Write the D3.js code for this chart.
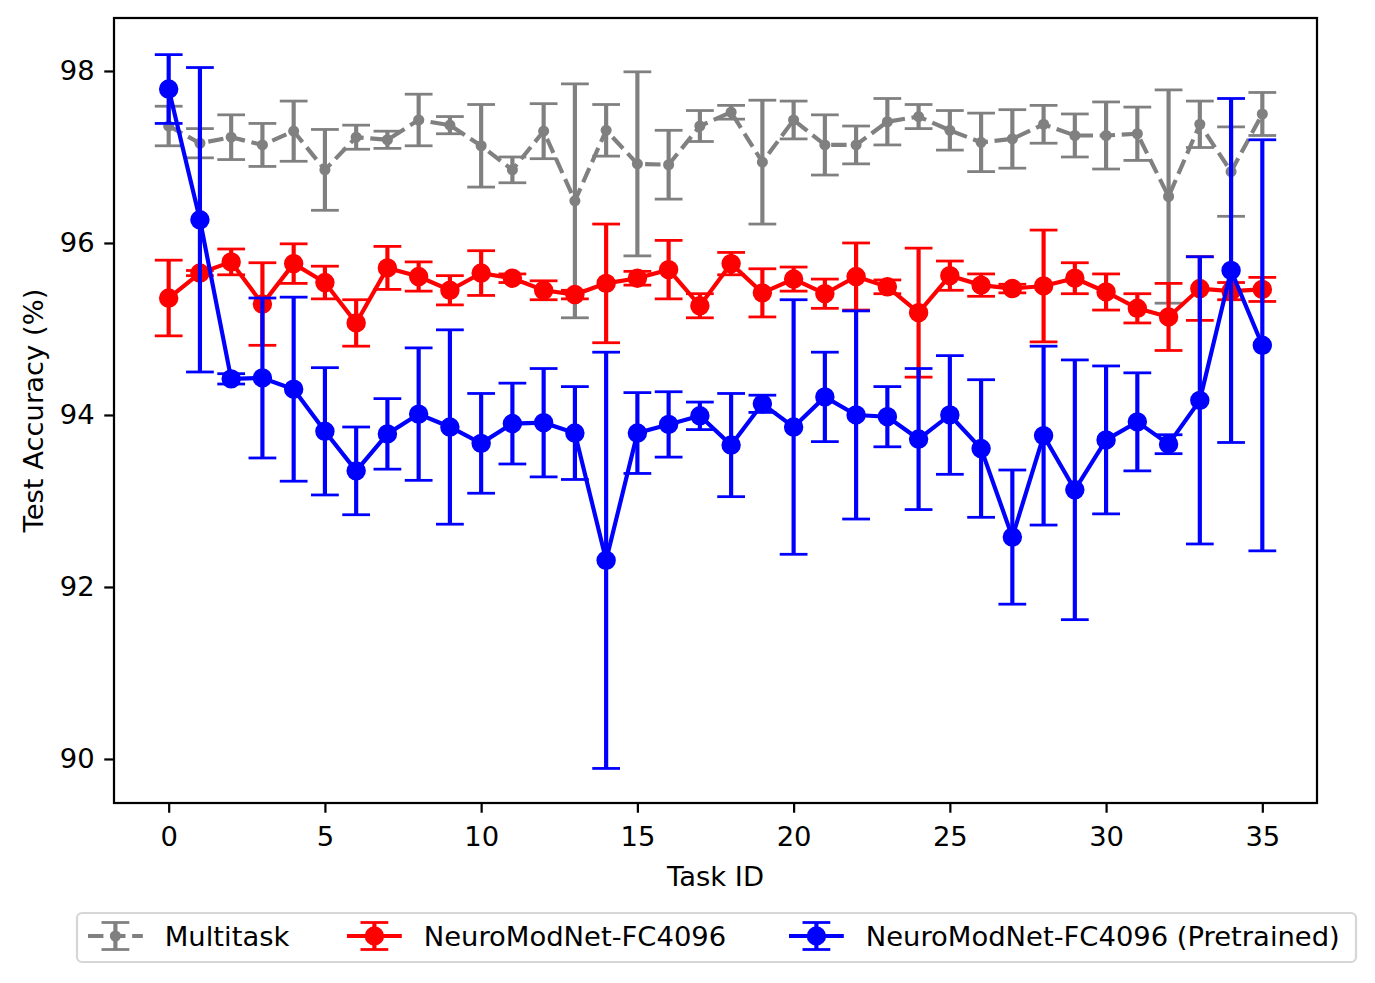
<!DOCTYPE html>
<html>
<head>
<meta charset="utf-8">
<script src="https://cdn.jsdelivr.net/npm/d3@7.9.0/dist/d3.min.js"></script>
<style>
  body { margin: 0; background: #fff; }
  svg { display: block; font-family: "DejaVu Sans", sans-serif; }
</style>
</head>
<body>
<svg id="chart" width="1375" height="983"></svg>
<script>
let taskIds = [0, 1, 2, 3, 4, 5, 6, 7, 8, 9, 10, 11, 12, 13, 14, 15, 16, 17,
  18, 19, 20, 21, 22, 23, 24, 25, 26, 27, 28, 29, 30, 31, 32, 33, 34, 35];

let multitaskMean = [97.36, 97.16, 97.23, 97.14, 97.30, 96.85, 97.23, 97.20, 97.43, 97.37, 97.13, 96.85,
  97.30, 96.49, 97.31, 96.92, 96.91, 97.36, 97.52, 96.94, 97.43, 97.14, 97.14, 97.41,
  97.47, 97.31, 97.17, 97.21, 97.38, 97.25, 97.25, 97.27, 96.54, 97.38, 96.83, 97.50];
let multitaskErr = [0.23, 0.17, 0.26, 0.25, 0.35, 0.47, 0.14, 0.10, 0.30, 0.10, 0.48, 0.15,
  0.32, 1.36, 0.30, 1.07, 0.40, 0.18, 0.08, 0.72, 0.22, 0.35, 0.22, 0.27,
  0.14, 0.23, 0.34, 0.34, 0.22, 0.25, 0.39, 0.31, 1.24, 0.27, 0.52, 0.25];

let neuroMean = [95.36, 95.65, 95.78, 95.29, 95.76, 95.54, 95.07, 95.71, 95.61, 95.45, 95.65, 95.59,
  95.45, 95.40, 95.53, 95.59, 95.69, 95.27, 95.76, 95.42, 95.58, 95.41, 95.61, 95.49,
  95.19, 95.62, 95.51, 95.47, 95.50, 95.59, 95.43, 95.24, 95.14, 95.47, 95.44, 95.46];
let neuroErr = [0.44, 0.03, 0.15, 0.48, 0.23, 0.19, 0.27, 0.25, 0.17, 0.17, 0.26, 0.05,
  0.11, 0.05, 0.69, 0.08, 0.34, 0.14, 0.13, 0.28, 0.14, 0.17, 0.39, 0.08,
  0.75, 0.17, 0.13, 0.05, 0.65, 0.18, 0.21, 0.17, 0.39, 0.37, 0.10, 0.14];

let pretrainedMean = [97.79, 96.27, 94.42, 94.43, 94.30, 93.81, 93.35, 93.78, 94.01, 93.86, 93.67, 93.90,
  93.91, 93.79, 92.31, 93.79, 93.89, 93.99, 93.65, 94.13, 93.86, 94.21, 94.00, 93.98,
  93.72, 94.00, 93.61, 92.58, 93.76, 93.13, 93.71, 93.92, 93.66, 94.17, 95.68, 94.81];
let pretrainedErr = [0.40, 1.77, 0.06, 0.93, 1.07, 0.74, 0.51, 0.41, 0.77, 1.13, 0.58, 0.47,
  0.63, 0.54, 2.42, 0.47, 0.38, 0.16, 0.60, 0.10, 1.48, 0.52, 1.21, 0.35,
  0.82, 0.69, 0.80, 0.78, 1.04, 1.51, 0.86, 0.57, 0.11, 1.67, 2.00, 2.39];

let xTicks = [0, 5, 10, 15, 20, 25, 30, 35];
let yTicks = [90, 92, 94, 96, 98];

let seriesNames = ["Multitask", "NeuroModNet-FC4096", "NeuroModNet-FC4096 (Pretrained)"];

// 200 dpi: 1pt = 2.78px
const pt = 200 / 72;
const fontSize = 27.4;

let series = [
  { name: seriesNames[0], mean: multitaskMean, err: multitaskErr, color: "#808080", dash: [3.7 * 1.5 * pt, 1.6 * 1.5 * pt], r: 1.5 * pt },
  { name: seriesNames[1], mean: neuroMean, err: neuroErr, color: "#ff0000", dash: null, r: 3 * pt },
  { name: seriesNames[2], mean: pretrainedMean, err: pretrainedErr, color: "#0000ff", dash: null, r: 3 * pt }
];

let axLeft = 114, axRight = 1317, axTop = 18, axBottom = 803;

let x = d3.scaleLinear().domain([-1.75, 36.75]).range([axLeft, axRight]);
let y = d3.scaleLinear().domain([89.488, 98.616]).range([axBottom, axTop]);

let svg = d3.select("#chart");

let lineW = 1.5 * pt;
let capHalf = 5 * pt;
let capW = 1.0 * pt;

let plot = svg.append("g");

series.forEach(s => {
  let g = plot.append("g");
  let pts = taskIds.map((t, i) => ({ t: t, m: s.mean[i], e: s.err[i] }));

  let line = d3.line().x(d => x(d.t)).y(d => y(d.m));
  g.append("path")
    .attr("d", line(pts))
    .attr("fill", "none")
    .attr("stroke", s.color)
    .attr("stroke-width", lineW)
    .attr("stroke-dasharray", s.dash ? s.dash.join(",") : null);

  g.selectAll("circle")
    .data(pts)
    .join("circle")
    .attr("cx", d => x(d.t))
    .attr("cy", d => y(d.m))
    .attr("r", s.r)
    .attr("fill", s.color)
    .attr("stroke", s.color)
    .attr("stroke-width", capW);

  g.selectAll("line.bar")
    .data(pts)
    .join("line")
    .attr("class", "bar")
    .attr("x1", d => x(d.t)).attr("x2", d => x(d.t))
    .attr("y1", d => y(d.m - d.e)).attr("y2", d => y(d.m + d.e))
    .attr("stroke", s.color)
    .attr("stroke-width", lineW);

  let caps = pts.flatMap(d => [d.m - d.e, d.m + d.e].map(v => ({ t: d.t, v: v })));
  g.selectAll("line.cap")
    .data(caps)
    .join("line")
    .attr("class", "cap")
    .attr("x1", d => x(d.t) - capHalf).attr("x2", d => x(d.t) + capHalf)
    .attr("y1", d => y(d.v)).attr("y2", d => y(d.v))
    .attr("stroke", s.color)
    .attr("stroke-width", capW);
});

// frame
svg.append("rect")
  .attr("x", axLeft).attr("y", axTop)
  .attr("width", axRight - axLeft).attr("height", axBottom - axTop)
  .attr("fill", "none").attr("stroke", "#000").attr("stroke-width", 0.8 * pt);

let tickLen = 3.5 * pt;

let xAxis = svg.append("g")
  .attr("transform", `translate(0,${axBottom})`)
  .call(d3.axisBottom(x).tickValues(xTicks).tickFormat(d3.format("d"))
    .tickSizeInner(tickLen).tickSizeOuter(0).tickPadding(3.5 * pt + 4));
let yAxis = svg.append("g")
  .attr("transform", `translate(${axLeft},0)`)
  .call(d3.axisLeft(y).tickValues(yTicks).tickFormat(d3.format("d"))
    .tickSizeInner(tickLen).tickSizeOuter(0).tickPadding(3.5 * pt));

[xAxis, yAxis].forEach(a => {
  a.select(".domain").remove();
  a.selectAll(".tick line").attr("stroke", "#000").attr("stroke-width", 0.8 * pt);
  a.selectAll(".tick text")
    .attr("fill", "#000")
    .style("font-family", "DejaVu Sans")
    .style("font-size", fontSize + "px");
});

svg.append("text")
  .attr("x", (axLeft + axRight) / 2).attr("y", 886)
  .attr("text-anchor", "middle")
  .style("font-size", fontSize + "px")
  .text("Task ID");

svg.append("text")
  .attr("transform", `translate(43,${(axTop + axBottom) / 2}) rotate(-90)`)
  .attr("text-anchor", "middle")
  .style("font-size", fontSize + "px")
  .text("Test Accuracy (%)");

// legend
let legend = svg.append("g");
legend.append("rect")
  .attr("x", 77).attr("y", 913).attr("width", 1279).attr("height", 49)
  .attr("rx", 5).attr("fill", "#fff")
  .attr("stroke", "#d6d6d6").attr("stroke-width", 0.8 * pt);

let handleX = [88, 347, 789];
let handleLen = 2 * fontSize;
let ly = 936;

series.forEach((s, i) => {
  let hx = handleX[i];
  let cx = hx + handleLen / 2;
  let g = legend.append("g");
  g.append("line")
    .attr("x1", hx).attr("x2", hx + handleLen)
    .attr("y1", ly).attr("y2", ly)
    .attr("stroke", s.color).attr("stroke-width", lineW)
    .attr("stroke-dasharray", s.dash ? s.dash.join(",") : null);
  g.append("line")
    .attr("x1", cx).attr("x2", cx)
    .attr("y1", ly - 13.5).attr("y2", ly + 13.5)
    .attr("stroke", s.color).attr("stroke-width", lineW);
  [ly - 13.5, ly + 13.5].forEach(cy => {
    g.append("line")
      .attr("x1", cx - capHalf).attr("x2", cx + capHalf)
      .attr("y1", cy).attr("y2", cy)
      .attr("stroke", s.color).attr("stroke-width", capW);
  });
  g.append("circle")
    .attr("cx", cx).attr("cy", ly).attr("r", s.r)
    .attr("fill", s.color).attr("stroke", s.color).attr("stroke-width", capW);
  g.append("text")
    .attr("x", hx + handleLen + 0.8 * fontSize).attr("y", ly + 0.36 * fontSize)
    .style("font-size", fontSize + "px")
    .text(s.name);
});
</script>
</body>
</html>
